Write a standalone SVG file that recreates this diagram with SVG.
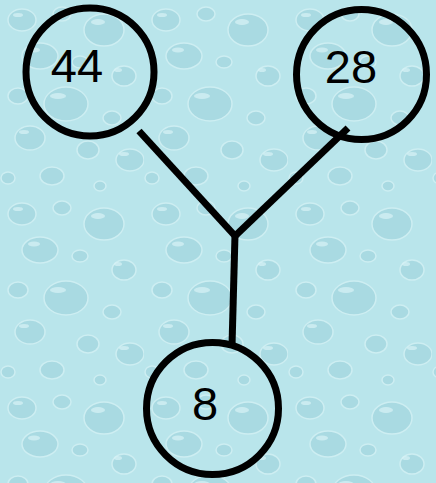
<svg xmlns="http://www.w3.org/2000/svg" width="436" height="483" viewBox="0 0 436 483">
  <style>
    .node circle { fill: none; stroke: #000; stroke-width: 7; }
    .node text { font-family: "Liberation Sans", Arial, sans-serif; font-size: 47px; fill: #000; text-anchor: middle; }
    .edges line { stroke: #000; stroke-width: 7; stroke-linecap: butt; }
  </style>
  <defs>
    <pattern id="drops" x="0" y="0" width="144" height="194" patternUnits="userSpaceOnUse">
      <rect width="144" height="194" fill="#b9e5eb"/>
      <g fill="#a9dae2" stroke="#cdeef2" stroke-width="1.5">
        <ellipse cx="22" cy="20" rx="14" ry="11"/>
        <ellipse cx="62" cy="14" rx="9" ry="7"/>
        <ellipse cx="104" cy="30" rx="20" ry="16"/>
        <ellipse cx="40" cy="56" rx="18" ry="13"/>
        <ellipse cx="80" cy="62" rx="8" ry="6"/>
        <ellipse cx="124" cy="76" rx="12" ry="10"/>
        <ellipse cx="18" cy="96" rx="10" ry="8"/>
        <ellipse cx="66" cy="104" rx="22" ry="17"/>
        <ellipse cx="112" cy="118" rx="9" ry="7"/>
        <ellipse cx="30" cy="138" rx="15" ry="12"/>
        <ellipse cx="88" cy="150" rx="11" ry="9"/>
        <ellipse cx="130" cy="160" rx="14" ry="11"/>
        <ellipse cx="52" cy="176" rx="12" ry="9"/>
        <ellipse cx="8" cy="178" rx="7" ry="6"/>
        <ellipse cx="100" cy="186" rx="6" ry="5"/>
      </g>
      <g fill="#d8f3f6" opacity="0.7">
        <ellipse cx="18" cy="15" rx="5" ry="2"/>
        <ellipse cx="98" cy="22" rx="7" ry="3"/>
        <ellipse cx="34" cy="50" rx="6" ry="2.5"/>
        <ellipse cx="58" cy="96" rx="8" ry="3"/>
        <ellipse cx="24" cy="132" rx="5" ry="2"/>
        <ellipse cx="124" cy="154" rx="5" ry="2"/>
        <ellipse cx="118" cy="70" rx="4" ry="2"/>
      </g>
    </pattern>
  </defs>
  <rect width="436" height="483" fill="url(#drops)"/>
  <g class="edges" id="connectors">
    <line x1="139" y1="131" x2="236" y2="237"/>
    <line x1="348" y1="128" x2="234" y2="237"/>
    <line x1="235" y1="235" x2="232" y2="346"/>
  </g>
  <g class="node" id="node-44">
    <circle cx="90" cy="72" r="64"/>
    <text x="77" y="82">44</text>
  </g>
  <g class="node" id="node-28">
    <circle cx="361.5" cy="74.5" r="65"/>
    <text x="351" y="83">28</text>
  </g>
  <g class="node" id="node-8">
    <circle cx="212.5" cy="408.5" r="66"/>
    <text x="205" y="420">8</text>
  </g>
</svg>
